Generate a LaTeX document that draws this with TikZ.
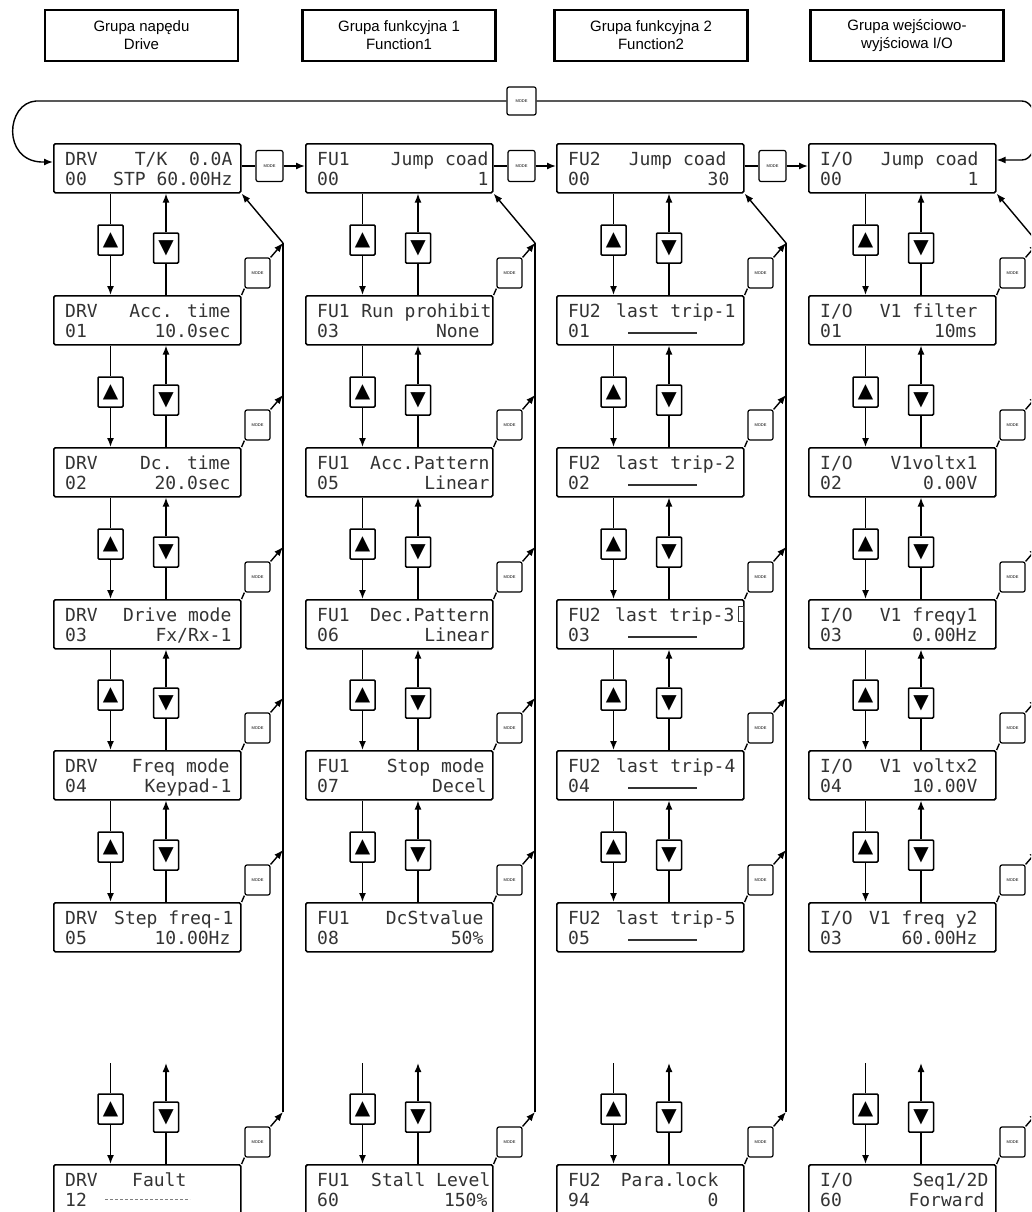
\documentclass[tikz,border=0pt]{standalone}
\usepackage{fontspec}
\setmainfont{Liberation Sans}
\newfontfamily\lcdfont{DejaVu Sans Mono}
\newfontfamily\symfont{DejaVu Sans}
\usetikzlibrary{arrows.meta,calc}
\tikzset{
  lcdbox/.style={draw, line width=1.6pt, rounded corners=1.5pt, minimum width=187pt, minimum height=49pt, inner sep=0pt},
  lcdtxt/.style={inner sep=0pt, font=\lcdfont\fontsize{18}{18}\selectfont, text=black!80},
  hdr/.style={draw, line width=2.5pt, minimum width=193pt, minimum height=51pt, align=center, font=\fontsize{15}{18}\selectfont},
  btn/.style={draw, line width=1.5pt, rounded corners=1pt, minimum width=25pt, minimum height=30pt, inner sep=0pt, font=\symfont\fontsize{20}{20}\selectfont},
  modebox/.style={draw, line width=1.2pt, rounded corners=2pt, inner sep=0pt, font=\fontsize{4}{4}\selectfont},
  conn/.style={line width=1.4pt},
  arr/.style={conn, -{Latex[length=9pt,width=7pt]}},
}
% #1 name, #2 left, #3 top, #4 code, #5 right text line 1, #6 number, #7 right text line 2, #8/#9 right offsets
\newcommand\lcd[9]{%
  \node[lcdbox, anchor=north west] (#1) at (#2,#3) {};
  \node[lcdtxt, anchor=base west] (#1a) at ($(#1.north west)+(12,22)$) {#4};
  \node[lcdtxt, anchor=base east] (#1b) at ($(#1.north east)+(-#8,22)$) {#5};
  \node[lcdtxt, anchor=base west] (#1c) at ($(#1.north west)+(12,42)$) {#6};
  \node[lcdtxt, anchor=base east] (#1d) at ($(#1.north east)+(-#9,42)$) {#7};
}
\begin{document}
\begin{tikzpicture}[x=1pt,y=-1pt]
\useasboundingbox (0,0) rectangle (1031,1212);
\fill[white] (0,0) rectangle (1031,1212);
\clip (0,0) rectangle (1031,1212);

% headers
\node[hdr] (hd0) at (141.5,35.5) {Grupa napędu\\Drive};
\node[hdr] (hd1) at (399,35.5) {Grupa funkcyjna 1\\Function1};
\node[hdr] (hd2) at (651,35.5) {Grupa funkcyjna 2\\Function2};
\node[hdr] (hd3) at (907,35.5) {Grupa wejściowo-\\wyjściowa I/O};

% column 1 DRV
\lcd{b0-0}{53}{143}{DRV}{T/K~~0.0A}{00}{STP 60.00Hz}{9}{9}
\lcd{b0-1}{53}{295}{DRV}{Acc. time}{01}{10.0sec}{11}{11}
\lcd{b0-2}{53}{447}{DRV}{Dc. time}{02}{20.0sec}{11}{11}
\lcd{b0-3}{53}{599}{DRV}{Drive mode}{03}{Fx/Rx-1}{10}{10}
\lcd{b0-4}{53}{750}{DRV}{Freq mode}{04}{Keypad-1}{12}{10}
\lcd{b0-5}{53}{902}{DRV}{Step freq-1}{05}{10.00Hz}{8}{11}
\lcd{b0-6}{53}{1164}{DRV}{Fault}{12}{}{55}{10}
% column 2 FU1
\lcd{b1-0}{305}{143}{FU1}{Jump coad}{00}{1}{5}{5}
\lcd{b1-1}{305}{295}{FU1}{Run prohibit}{03}{None}{2}{14}
\lcd{b1-2}{305}{447}{FU1}{Acc.Pattern}{05}{Linear}{4}{4}
\lcd{b1-3}{305}{599}{FU1}{Dec.Pattern}{06}{Linear}{4}{4}
\lcd{b1-4}{305}{750}{FU1}{Stop mode}{07}{Decel}{9}{7}
\lcd{b1-5}{305}{902}{FU1}{DcStvalue}{08}{50\%}{10}{10}
\lcd{b1-6}{305}{1164}{FU1}{Stall Level}{60}{150\%}{3}{6}
% column 3 FU2
\lcd{b2-0}{556}{143}{FU2}{Jump coad}{00}{30}{18}{15}
\lcd{b2-1}{556}{295}{FU2}{last trip-1}{01}{}{9}{9}
\lcd{b2-2}{556}{447}{FU2}{last trip-2}{02}{}{9}{9}
\lcd{b2-3}{556}{599}{FU2}{last trip-3}{03}{}{10}{9}
\lcd{b2-4}{556}{750}{FU2}{last trip-4}{04}{}{9}{9}
\lcd{b2-5}{556}{902}{FU2}{last trip-5}{05}{}{9}{9}
\lcd{b2-6}{556}{1164}{FU2}{Para.lock}{94}{0}{26}{26}
% column 4 I/O
\lcd{b3-0}{808}{143}{I/O}{Jump coad}{00}{1}{18}{18}
\lcd{b3-1}{808}{295}{I/O}{V1 filter}{01}{10ms}{19}{19}
\lcd{b3-2}{808}{447}{I/O}{V1voltx1}{02}{0.00V}{19}{19}
\lcd{b3-3}{808}{599}{I/O}{V1 freqy1}{03}{0.00Hz}{19}{19}
\lcd{b3-4}{808}{750}{I/O}{V1 voltx2}{04}{10.00V}{19}{19}
\lcd{b3-5}{808}{902}{I/O}{V1 freq y2}{03}{60.00Hz}{19}{19}
\lcd{b3-6}{808}{1164}{I/O}{Seq1/2D}{60}{Forward}{8}{12}

% LCD extras
\draw[gray, line width=0.7pt, dash pattern=on 3pt off 2pt] ($(b0-6.north west)+(52,35)$) -- ++(85,0);
\foreach \r in {1,...,5}{
  \draw[black!80, line width=1.1pt] ($(b2-\r.north west)+(72,38)$) -- ++(69,0);
}
\draw[black!80, line width=0.6pt] ($(b2-3.north east)+(-6,7)$) rectangle ($(b2-3.north east)+(-1,22)$);

% up/down buttons, side MODE keys
\foreach \c/\L in {0/53,1/305,2/556,3/808}{
  \foreach \r/\T in {1/295,2/447,3/599,4/750,5/902,6/1164}{
    \pgfmathtruncatemacro\p{\r-1}
    \node[btn] (u\c-\r) at (\L+57.5,\T-55) {▲};
    \node[btn] (d\c-\r) at (\L+113,\T-47) {▼};
    \ifnum\r=6
      \coordinate (fu\c) at (\L+57.5,1063);
      \coordinate (fd\c) at (\L+113,1063);
      \draw[conn] (fu\c) -- (u\c-\r.north);
      \draw[arr] (d\c-\r.north) -- (fd\c);
    \else
      \draw[conn] (u\c-\r.north |- b\c-\p.south) -- (u\c-\r.north);
      \draw[arr] (d\c-\r.north) -- (d\c-\r.north |- b\c-\p.south);
    \fi
    \draw[arr] (u\c-\r.south) -- (u\c-\r.south |- b\c-\r.north);
    \draw[conn] (d\c-\r.south |- b\c-\r.north) -- (d\c-\r.south);
    \node[modebox, minimum width=25pt, minimum height=30pt] (m\c-\r) at (\L+204.5,\T-22) {MODE};
    \draw[conn] (b\c-\r.north east) -- (m\c-\r.south west);
    \coordinate (v\c-\r) at (\L+230,\T-52);
    \draw[arr] (m\c-\r.north east) -- (v\c-\r);
  }
  \draw[conn] (v\c-1) -- (v\c-6);
  \draw[arr] (v\c-1) -- (b\c-0.south east);
}

% MODE keys between columns
\foreach \c/\L/\n in {0/53/1,1/305/2,2/556/3}{
  \node[modebox, minimum width=27pt, minimum height=31pt] (h\c) at (\L+216.5,166) {MODE};
  \draw[conn] (b\c-0.east |- h\c.west) -- (h\c.west);
  \draw[arr] (h\c.east) -- (b\n-0.west |- h\c.east);
}

% top loop
\node[modebox, minimum width=29pt, minimum height=28pt] (top) at (521.5,101) {MODE};
\draw[arr] (top.west) -- (36,101) .. controls (6,103) and (2,160) .. ($(b0-0.north west)+(-12,19)$) -- ($(b0-0.north west)+(0,19)$);
\draw[arr] (top.east) -- (1022,101) .. controls (1042,101) and (1042,160) .. (1022,160) -- ($(b3-0.north east)+(0,17)$);
\end{tikzpicture}
\end{document}
